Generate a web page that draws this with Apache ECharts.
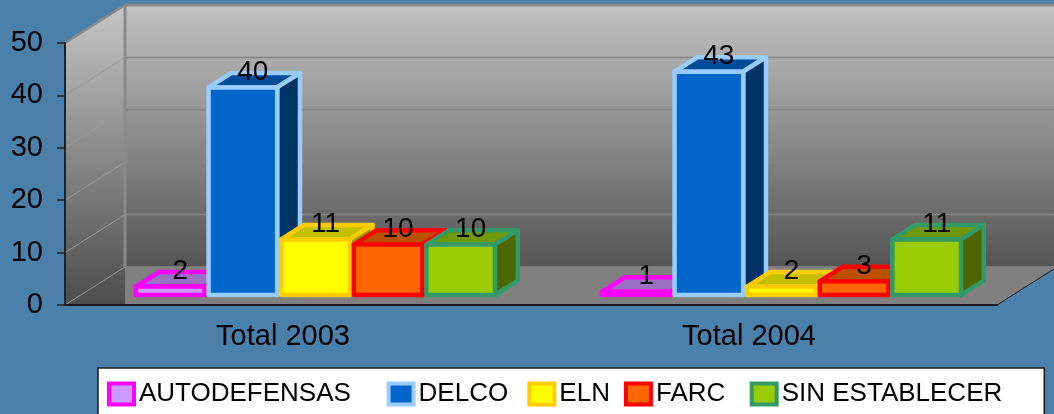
<!DOCTYPE html>
<html>
<head>
<meta charset="utf-8">
<script src="https://cdn.jsdelivr.net/npm/echarts@6/dist/echarts.min.js"></script>
<style>
  html, body { margin: 0; padding: 0; background: #4b80aa; }
  #chart { width: 1054px; height: 414px; }
</style>
</head>
<body>
<div id="chart"></div>
<script>
  // datos
  const categories = ['Total 2003', 'Total 2004'];
  const autodefensas = [2, 1];
  const delco = [40, 43];
  const eln = [11, 2];
  const farc = [10, 3];
  const sinEstablecer = [10, 11];
  const yTicks = [0, 10, 20, 30, 40, 50];

  const seriesNames = ['AUTODEFENSAS', 'DELCO', 'ELN', 'FARC', 'SIN ESTABLECER'];
  const seriesData = [autodefensas, delco, eln, farc, sinEstablecer];

  // colores: frente, borde, tapa, lado
  const styles = [
    { front: '#cc99ff', border: '#ff00ff', top: '#9a70c0', side: '#6a4c88' },
    { front: '#0066cc', border: '#99ccff', top: '#004c99', side: '#003366' },
    { front: '#ffff00', border: '#ffcc00', top: '#c4c000', side: '#999900' },
    { front: '#ff6600', border: '#ff0000', top: '#bb5000', side: '#993d00' },
    { front: '#99cc00', border: '#339966', top: '#709900', side: '#4d6600' }
  ];
  // espacio extra despues de cada texto de la leyenda (Excel no los separa igual)
  const legendPad = ['\u00a0\u00a0\u00a0', '\u2009', '', '\u2009\u2009', ''];

  const FONT = "'Liberation Sans', Arial, sans-serif";
  const DEPTH = [60, -38];      // profundidad del piso
  const FRONT = 0.21;           // donde empiezan las barras en profundidad
  const BAR_DEPTH = 0.38;       // profundidad de la barra
  const GROUP = 0.779;          // ancho del grupo / ancho de la banda
  const SHIFT = 0.0375;

  function renderWalls(params, api) {
    const cs = params.coordSys;
    const dx = DEPTH[0], dy = DEPTH[1];
    const bottom = cs.y + cs.height;
    const right = cs.x + cs.width;
    const children = [];
    // pared de fondo
    children.push({
      type: 'rect',
      shape: { x: cs.x + dx, y: cs.y + dy, width: cs.width, height: cs.height },
      style: { fill: new echarts.graphic.LinearGradient(0, 0, 0, 1, [
        { offset: 0, color: '#c2c2c2' }, { offset: 1, color: '#555555' }]) }
    });
    // pared lateral
    children.push({
      type: 'polygon',
      shape: { points: [[cs.x, cs.y], [cs.x + dx, cs.y + dy], [cs.x + dx, bottom], [cs.x, bottom]] },
      style: { fill: new echarts.graphic.LinearGradient(0, 0, 0, 1, [
        { offset: 0, color: '#c6c6c6' }, { offset: 1, color: '#4c4c4c' }]) }
    });
    // piso
    children.push({
      type: 'polygon',
      shape: { points: [[cs.x + dx, bottom + dy], [right + dx, bottom + dy], [right, bottom], [cs.x + dx, bottom]] },
      style: { fill: '#808080' }
    });
    // lineas de division
    yTicks.forEach(function (v) {
      const yv = api.coord([0, v])[1];
      const edge = v === yTicks[yTicks.length - 1];
      children.push({
        type: 'line',
        shape: { x1: cs.x + dx, y1: yv + dy, x2: right + dx, y2: yv + dy },
        style: { stroke: edge ? '#8a8a8a' : '#858585', lineWidth: edge ? 3 : 1.5 }
      });
      children.push({
        type: 'line',
        shape: { x1: cs.x, y1: yv, x2: cs.x + dx, y2: yv + dy },
        style: { stroke: edge ? '#8a8a8a' : '#9a9a9a', lineWidth: edge ? 2.5 : 1 }
      });
    });
    children.push({
      type: 'line',
      shape: { x1: cs.x + dx, y1: cs.y + dy, x2: cs.x + dx, y2: bottom + dy },
      style: { stroke: '#8a8a8a', lineWidth: 3 }
    });
    children.push({
      type: 'line',
      shape: { x1: right, y1: bottom, x2: right + dx, y2: bottom + dy },
      style: { stroke: '#1a1a1a', lineWidth: 1 }
    });
    return { type: 'group', children: children };
  }

  function makeBarRenderer(i) {
    const st = styles[i];
    return function (params, api) {
      const cat = api.value(0);
      const val = api.value(1);
      const base = api.coord([cat, 0]);
      const top = api.coord([cat, val]);
      const bw = api.size([1, 0])[0];
      const groupW = bw * GROUP;
      const w = groupW / seriesNames.length;
      const offY = DEPTH[1] * FRONT;
      const ddx = DEPTH[0] * BAR_DEPTH, ddy = DEPTH[1] * BAR_DEPTH;
      const left = base[0] - groupW / 2 + bw * SHIFT + i * w + 2;
      const rightX = left + w - 4;
      const yb = base[1] + offY - 2;
      const yt = top[1] + offY;
      const lw = 4.5;
      return {
        type: 'group',
        children: [
          {
            type: 'polygon',
            shape: { points: [[left, yt], [rightX, yt], [rightX + ddx, yt + ddy], [left + ddx, yt + ddy]] },
            style: { fill: st.top, stroke: st.border, lineWidth: lw, lineJoin: 'round' }
          },
          {
            type: 'polygon',
            shape: { points: [[rightX, yt], [rightX + ddx, yt + ddy], [rightX + ddx, yb + ddy], [rightX, yb]] },
            style: { fill: st.side, stroke: st.border, lineWidth: lw, lineJoin: 'round' }
          },
          {
            type: 'rect',
            shape: { x: left, y: yt, width: rightX - left, height: Math.max(yb - yt, 0) },
            style: { fill: st.front, stroke: st.border, lineWidth: lw, lineJoin: 'round' }
          },
          {
            type: 'text',
            z2: 100,
            style: {
              x: (left + rightX) / 2 + 10,
              y: yt - 15,
              text: String(val),
              fill: '#000',
              font: '28px ' + FONT,
              align: 'center',
              verticalAlign: 'middle'
            }
          }
        ]
      };
    };
  }

  const series = [{
    type: 'custom',
    name: 'walls',
    z: -1,
    silent: true,
    renderItem: renderWalls,
    data: [[0, 0]]
  }];
  seriesNames.forEach(function (name, i) {
    series.push({
      type: 'custom',
      name: name,
      renderItem: makeBarRenderer(i),
      itemStyle: { color: styles[i].front, borderColor: styles[i].border, borderWidth: 4 },
      data: seriesData[i].map(function (v, k) { return [k, v]; })
    });
  });

  const myChart = echarts.init(document.getElementById('chart'));
  const option = {
    backgroundColor: '#4b80aa',
    animation: false,
    grid: { left: 65, top: 43, right: 57, bottom: 109 },
    xAxis: {
      type: 'category',
      data: categories,
      boundaryGap: true,
      axisLine: { lineStyle: { color: '#1a1a1a', width: 2 } },
      axisTick: { length: 8, lineStyle: { color: '#1a1a1a', width: 1.5 } },
      axisLabel: {
        color: '#000', fontSize: 29, fontFamily: FONT, margin: 17,
        padding: [0, 30, 0, 0]
      }
    },
    yAxis: {
      type: 'value',
      min: 0,
      max: 50,
      interval: 10,
      axisLine: { show: true, lineStyle: { color: '#222', width: 2 } },
      axisTick: { show: true, length: 8, lineStyle: { color: '#222', width: 1.5 } },
      splitLine: { show: false },
      axisLabel: { color: '#000', fontSize: 29, fontFamily: FONT, margin: 22 }
    },
    legend: {
      left: 98,
      top: 368,
      selectedMode: false,
      backgroundColor: '#ffffff',
      borderColor: '#1a1a1a',
      borderWidth: 1.5,
      padding: [13, 42, 20, 9],
      itemWidth: 25,
      itemHeight: 21,
      itemGap: 14,
      icon: 'rect',
      textStyle: { color: '#000', fontSize: 26, fontFamily: FONT },
      formatter: function (name) {
        return name + legendPad[seriesNames.indexOf(name)];
      },
      data: seriesNames.map(function (n, i) {
        return {
          name: n,
          itemStyle: { color: styles[i].front, borderColor: styles[i].border, borderWidth: 4 }
        };
      })
    },
    series: series
  };
  myChart.setOption(option);
</script>
</body>
</html>
